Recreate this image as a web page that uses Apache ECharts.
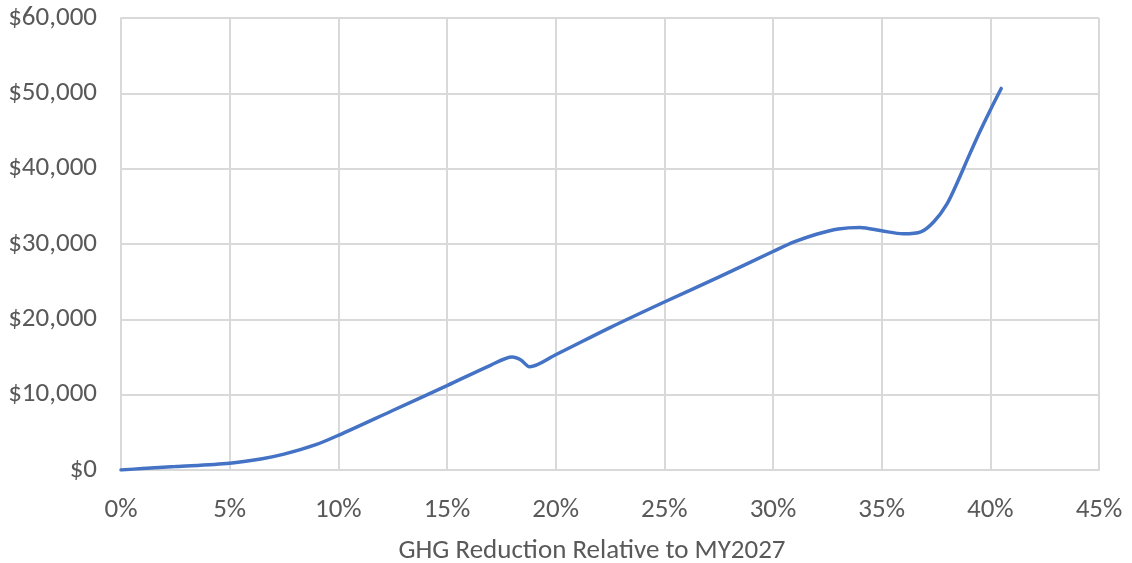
<!DOCTYPE html>
<html>
<head>
<meta charset="utf-8">
<script src="https://cdn.jsdelivr.net/npm/echarts@6/dist/echarts.min.js"></script>
<style>html,body{margin:0;padding:0;background:#fff}#c{width:1132px;height:563px}</style>
</head>
<body>
<div id="c"></div>
<script>
// GHG reduction (%) relative to MY2027
const reductionPct = [0, 1, 2.5, 5, 6.5, 7.5, 9, 10, 12.5, 15, 17, 18, 18.4, 18.8, 20, 22.5, 25, 27.5, 30, 31, 32, 33, 34, 35, 36, 36.8, 37.4, 38, 38.5, 39, 39.5, 40, 40.5];
// Cost ($)
const costValues = [0, 200, 450, 900, 1500, 2100, 3400, 4600, 7900, 11200, 13900, 15000, 14600, 13700, 15300, 18900, 22300, 25600, 29000, 30300, 31300, 32000, 32200, 31750, 31350, 31600, 32950, 35300, 38300, 41600, 44800, 47800, 50650];
const xTicks = [0, 5, 10, 15, 20, 25, 30, 35, 40, 45];
const yTicks = [0, 10000, 20000, 30000, 40000, 50000, 60000];
const xAxisTitle = 'GHG Reduction Relative to MY2027';

const FONT = "Carlito, 'Liberation Sans Narrow', 'Open Sans', sans-serif";
const chart = echarts.init(document.getElementById('c'));
chart.setOption({
  animation: false,
  grid: { left: 121, right: 33, top: 18, bottom: 93, containLabel: false, outerBoundsMode: 'none' },
  xAxis: {
    type: 'value', min: xTicks[0], max: xTicks[xTicks.length - 1], interval: 5,
    name: xAxisTitle, nameLocation: 'middle', nameGap: 68,
    nameTextStyle: { color: '#595959', fontSize: 27, fontFamily: FONT, padding: [0, 36, 0, 0] },
    axisLine: { show: true, lineStyle: { color: '#d9d9d9', width: 2 } },
    axisTick: { show: false },
    axisLabel: { color: '#595959', fontSize: 27, fontFamily: FONT, margin: 27, formatter: v => v + '%' },
    splitLine: { show: true, lineStyle: { color: '#d9d9d9', width: 2 } }
  },
  yAxis: {
    type: 'value', min: yTicks[0], max: yTicks[yTicks.length - 1], interval: 10000,
    axisLine: { show: true, lineStyle: { color: '#d9d9d9', width: 2 } },
    axisTick: { show: false },
    axisLabel: { color: '#595959', fontSize: 27, fontFamily: FONT, margin: 24,
      formatter: v => '$' + v.toLocaleString('en-US') },
    splitLine: { show: true, lineStyle: { color: '#d9d9d9', width: 2 } }
  },
  series: [{
    type: 'line',
    data: reductionPct.map((x, i) => [x, costValues[i]]),
    smooth: 0.3,
    showSymbol: false,
    lineStyle: { color: '#4472C4', width: 3.5, cap: 'round' }
  }]
});
</script>
</body>
</html>
